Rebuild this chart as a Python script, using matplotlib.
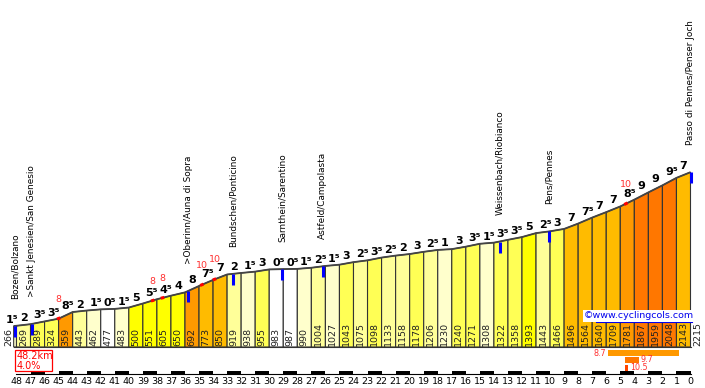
import numpy as np
import matplotlib
matplotlib.use("Agg")
import matplotlib.pyplot as plt
from matplotlib.patches import Polygon, Rectangle

# ---------------- data ----------------
dist_km = [48.2, 48, 47, 46, 45, 44, 43, 42, 41, 40, 39, 38, 37, 36, 35, 34, 33, 32, 31, 30,
           29, 28, 27, 26, 25, 24, 23, 22, 21, 20, 19, 18, 17, 16, 15, 14, 13, 12, 11, 10,
           9, 8, 7, 6, 5, 4, 3, 2, 1, 0]
altitudes = [266, 269, 289, 324, 359, 443, 462, 477, 483, 500, 551, 605, 650, 692, 773, 850,
             919, 938, 955, 983, 987, 990, 1004, 1027, 1043, 1075, 1098, 1133, 1158, 1178,
             1206, 1230, 1240, 1271, 1308, 1322, 1358, 1393, 1443, 1466, 1496, 1564, 1640,
             1709, 1781, 1867, 1959, 2048, 2143, 2215]
gradients = [1.5, 2, 3.5, 3.5, 8.5, 2, 1.5, 0.5, 1.5, 5, 5.5, 4.5, 4, 8, 7.5, 7, 2, 1.5, 3,
             0.5, 0.5, 1.5, 2.5, 1.5, 3, 2.5, 3.5, 2.5, 2, 3, 2.5, 1, 3, 3.5, 1.5, 3.5, 3.5,
             5, 2.5, 3, 7, 7.5, 7, 7, 8.5, 9, 9, 9.5, 7]
km_ticks = [48, 47, 46, 45, 44, 43, 42, 41, 40, 39, 38, 37, 36, 35, 34, 33, 32, 31, 30, 29,
            28, 27, 26, 25, 24, 23, 22, 21, 20, 19, 18, 17, 16, 15, 14, 13, 12, 11, 10, 9,
            8, 7, 6, 5, 4, 3, 2, 1, 0]
place_names = ["Bozen/Bolzano", ">Sankt Jenesien/San Genesio", ">Oberinn/Auna di Sopra",
               "Bundschen/Ponticino", "Sarnthein/Sarentino", "Astfeld/Campolasta",
               "Weissenbach/Riobianco", "Pens/Pennes", "Passo di Pennes/Penser Joch"]
place_km = [48.08, 46.9, 35.75, 32.6, 29.06, 26.2, 13.6, 10.05, 0.0]
steep_km = [45.0, 38.3, 37.6, 34.8, 33.9, 4.6]
steep_val = [8, 8, 8, 10, 10, 10]
section_start = [5.84, 4.63, 4.63]
section_end = [0.85, 3.70, 4.42]
section_grade = [8.7, 9.7, 10.5]

# ---------------- layout calibration ----------------
W, H = 705, 388
PX_KM = 14.042          # pixels per km
X0 = 690.5              # pixel x of km 0
M_PX = 12.67            # metres per pixel
BASE_PY = 347           # pixel y (from top) of altitude 0

def X(px):
    return (X0 - px) / PX_KM

def Y(py):
    return (BASE_PY - py) * M_PX

def dx(px):
    return px / PX_KM

def dy(px):
    return px * M_PX

def grade_color(g):
    if g < 1:
        return "#FFFFFF"
    if g < 2:
        return "#FFFFCC"
    if g < 3:
        return "#FFFF99"
    if g < 4:
        return "#FFFF55"
    if g < 6:
        return "#FFFF00"
    if g < 7:
        return "#FFD800"
    if g < 8:
        return "#FFBB00"
    if g < 9:
        return "#FF9900"
    if g < 10:
        return "#FF7700"
    return "#FF4400"

plt.rcParams["font.family"] = ["DejaVu Sans"]
fig = plt.figure(figsize=(W / 100, H / 100), dpi=100)
ax = fig.add_axes([0, 0, 1, 1])
ax.set_xlim(X(0), X(W))
ax.set_ylim(Y(H), Y(0))
ax.axis("off")

km = np.array(dist_km, dtype=float)
alt = np.array(altitudes, dtype=float)
profile = lambda k: np.interp(-k, -km, alt)

# bars
for i in range(len(gradients)):
    k0, k1 = km[i], km[i + 1]
    a0, a1 = alt[i], alt[i + 1]
    poly = Polygon([(k0, 0), (k0, a0), (k1, a1), (k1, 0)], closed=True,
                   facecolor=grade_color(gradients[i]), edgecolor="#333333", lw=0.8)
    ax.add_patch(poly)
ax.plot(km, alt, color="#444444", lw=1.3, solid_capstyle="butt")
ax.plot([km[0], km[-1]], [0, 0], color="#333333", lw=0.8)

# gradient labels
for i, g in enumerate(gradients):
    k0, k1 = km[i], km[i + 1]
    lab = f"{int(g)}" + ("\u2075" if g % 1 else "")
    xc = (k0 + k1) / 2 - (dx(2) if g % 1 else 0)
    if i == 0:
        xc = k0 + dx(1.5)
    ax.text(xc, alt[i + 1] + dy(3), lab,
            ha="center", va="baseline", fontsize=8, fontweight="bold", color="black")

# altitude labels
for i, a in enumerate(altitudes):
    xk = km[i] + dx(5) if i == 0 else km[i] - 0.5
    ax.text(xk, dy(1.5), str(a), rotation=90, ha="center", va="bottom",
            fontsize=6.8, color="#222222")

# steepest points
for k, v in zip(steep_km, steep_val):
    ks = np.array([k + 0.12, k - 0.12])
    ax.plot(ks, profile(ks), color="red", lw=2.2, solid_capstyle="butt")
    ax.text(k, profile(k) + dy(17), str(v), ha="center", va="baseline",
            fontsize=6.8, color="#FF3030")

# place markers and names
for name, k in zip(place_names, place_km):
    a = profile(k)
    ax.plot([k, k], [a, a - dy(11)], color="#0000FF", lw=2.2, solid_capstyle="butt")
    ax.text(k, a + dy(27), name, rotation=90, ha="center", va="bottom",
            fontsize=6.4, color="black")

# km scale strip
for k in km_ticks[:-1]:
    lo = k - 1
    fc = "black" if lo % 2 == 0 else "white"
    ax.add_patch(Rectangle((k, Y(374)), -1, dy(3.5), facecolor=fc, edgecolor="none"))
ax.plot([km_ticks[0], km_ticks[-1]], [Y(373.5), Y(373.5)], color="black", lw=0.8)
for k in km_ticks:
    ax.text(k, Y(381), str(k), ha="center", va="center", fontsize=6.8, color="black")

# total distance / average gradient box
total = km[0] - km[-1]
avg = (alt[-1] - alt[0]) / (total * 10)
ax.add_patch(Rectangle((X(15), Y(371)), X(52) - X(15), dy(21), facecolor="white",
                       edgecolor="red", lw=0.9))
ax.text(X(17), Y(351), f"{total:.1f}km\n{avg:.1f}%", ha="left", va="top", fontsize=7,
        color="red", linespacing=0.95)

# steep sections legend
rows = [353, 359.5, 367.5]
for s, e, g, r in zip(section_start, section_end, section_grade, rows):
    ax.add_patch(Rectangle((s, Y(r + 3)), e - s, dy(6), facecolor=grade_color(g),
                           edgecolor="none"))
    if e < 2:
        ax.text(s + dx(2), Y(r), f"{g:.1f}", ha="right", va="center", fontsize=5.8,
                color="#FF3030")
    else:
        ax.text(e - dx(2), Y(r), f"{g:.1f}", ha="left", va="center", fontsize=5.8,
                color="#FF3030")

# watermark
ax.text(X(639), Y(316), "\u00a9www.cyclingcols.com", ha="center", va="center",
        fontsize=6.8, color="#0000EE",
        bbox=dict(facecolor="white", edgecolor="none", pad=1.0))
ax.plot([X(596), X(692)], [Y(322), Y(322)], color="#0000EE", lw=0.8)

fig.savefig("out.png", dpi=100)
